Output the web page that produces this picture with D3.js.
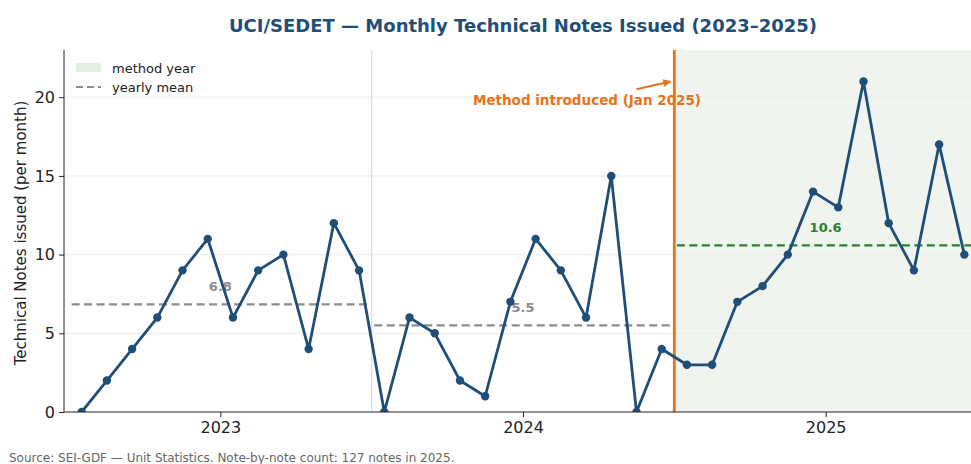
<!DOCTYPE html>
<html>
<head>
<meta charset="utf-8">
<title>UCI/SEDET monthly technical notes</title>
<script src="https://cdn.jsdelivr.net/npm/d3@7"></script>
<style>
	body { margin: 0; background: #fff; }
	svg { display: block; font-family: "DejaVu Sans", sans-serif; }
	.grid line { stroke: #ebebeb; }
	.axis path, .axis line { stroke: #222; }
	.axis text { fill: #222; }
</style>
</head>
<body>
<script>
	// data
	const years = [2023, 2024, 2025];
	const notes2023 = [0, 2, 4, 6, 9, 11, 6, 9, 10, 4, 12, 9];
	const notes2024 = [0, 6, 5, 2, 1, 7, 11, 9, 6, 15, 0, 4];
	const notes2025 = [3, 3, 7, 8, 10, 14, 13, 21, 12, 9, 17, 10];
	const yTicks = [0, 5, 10, 15, 20];
	const methodYear = 2025;

	const monthly = [notes2023, notes2024, notes2025];
	const series = [];
	monthly.forEach((arr, yi) => arr.forEach((v, m) => series.push({ i: yi * 12 + m, v: v })));
	const means = monthly.map((arr, yi) => ({ year: years[yi], yi: yi, mean: d3.mean(arr) }));

	const W = 971, H = 464;
	const margin = { top: 50, left: 64, bottom: 52 };
	const plotRight = 982;

	const svg = d3.select('body').append('svg')
		.attr('width', W)
		.attr('height', H);

	const x = d3.scaleLinear().domain([-0.7, 35.7]).range([margin.left, plotRight]);
	const y = d3.scaleLinear().domain([0, 23]).range([H - margin.bottom, margin.top]);

	svg.append('defs').append('clipPath').attr('id', 'plot')
		.append('rect')
			.attr('x', margin.left).attr('y', margin.top - 10)
			.attr('width', plotRight - margin.left).attr('height', y(0) - margin.top + 10);

	// method year shading
	const mi = years.indexOf(methodYear);
	svg.append('rect')
		.attr('x', x(mi * 12 - 0.5))
		.attr('y', y(23))
		.attr('width', x(35.7) - x(mi * 12 - 0.5))
		.attr('height', y(0) - y(23))
		.attr('fill', '#eff4ee');

	// horizontal grid
	svg.append('g').attr('class', 'grid')
		.selectAll('line').data(yTicks.slice(1)).enter()
		.append('line')
			.attr('x1', x(-0.7)).attr('x2', x(35.7))
			.attr('y1', d => y(d)).attr('y2', d => y(d));

	// year boundary
	svg.append('line')
		.attr('x1', x(11.5)).attr('x2', x(11.5))
		.attr('y1', y(0)).attr('y2', y(23))
		.attr('stroke', '#dcdcdc').attr('stroke-width', 1.2);

	// yearly means
	const gMean = svg.append('g').attr('clip-path', 'url(#plot)');
	gMean.selectAll('line').data(means).enter()
		.append('line')
			.attr('x1', d => x(d.yi * 12 - 0.4))
			.attr('x2', d => x(d.yi * 12 + 11.35))
			.attr('y1', d => y(d.mean)).attr('y2', d => y(d.mean))
			.attr('stroke', d => d.year === methodYear ? '#2e7d32' : '#8c8c8c')
			.attr('stroke-width', 2.2)
			.attr('stroke-dasharray', '8,4.5');

	gMean.selectAll('text').data(means).enter()
		.append('text')
			.attr('x', d => x(d.yi * 12 + 5.5))
			.attr('y', d => y(d.mean) - 13)
			.attr('text-anchor', 'middle')
			.attr('font-size', 13)
			.attr('font-weight', 'bold')
			.attr('fill', d => d.year === methodYear ? '#2e7d32' : '#8c8c8c')
			.text(d => d.mean.toFixed(1));

	// method line
	svg.append('line')
		.attr('x1', x(mi * 12 - 0.5)).attr('x2', x(mi * 12 - 0.5))
		.attr('y1', y(0)).attr('y2', y(23))
		.attr('stroke', '#ea7317').attr('stroke-width', 2.8);

	// series
	const line = d3.line().x(d => x(d.i)).y(d => y(d.v));
	const gLine = svg.append('g').attr('clip-path', 'url(#plot)');
	gLine.append('path')
		.datum(series)
		.attr('d', line)
		.attr('fill', 'none')
		.attr('stroke', '#1f4e79')
		.attr('stroke-width', 2.8)
		.attr('stroke-linejoin', 'round');
	gLine.selectAll('circle').data(series).enter()
		.append('circle')
			.attr('cx', d => x(d.i)).attr('cy', d => y(d.v))
			.attr('r', 4.2)
			.attr('fill', '#1f4e79');

	// axes
	svg.append('g').attr('class', 'axis')
		.attr('transform', `translate(${margin.left},0)`)
		.call(d3.axisLeft(y).tickValues(yTicks).tickSize(5).tickPadding(4))
		.attr('font-size', 16).attr('font-family', '"DejaVu Sans", sans-serif')
		.call(g => g.select('.domain').attr('d', `M-0,${y(0)}V${y(23)}`));

	svg.append('g').attr('class', 'axis')
		.attr('transform', `translate(0,${y(0)})`)
		.call(d3.axisBottom(x).tickValues(years.map((d, i) => i * 12 + 5.5))
			.tickFormat((d, i) => years[i]).tickSize(5).tickPadding(5))
		.attr('font-size', 16).attr('font-family', '"DejaVu Sans", sans-serif')
		.call(g => g.select('.domain').attr('d', `M${x(-0.7)},0H${plotRight}`));

	// y label
	svg.append('text')
		.attr('transform', `translate(26,${(y(0) + y(23)) / 2 + 2}) rotate(-90)`)
		.attr('text-anchor', 'middle')
		.attr('font-size', 15)
		.attr('fill', '#222')
		.text('Technical Notes issued (per month)');

	// annotation
	const ann = { i: mi * 12 - 0.5, v: 21 };
	svg.append('defs').append('marker')
		.attr('id', 'arrow').attr('viewBox', '0 0 10 10')
		.attr('refX', 9).attr('refY', 5)
		.attr('markerWidth', 4.5).attr('markerHeight', 4)
		.attr('orient', 'auto')
		.append('path').attr('d', 'M0,0L10,5L0,10z').attr('fill', '#ea7317');
	svg.append('line')
		.attr('x1', x(ann.i - 1.5)).attr('y1', y(ann.v - 0.5))
		.attr('x2', x(ann.i - 0.15)).attr('y2', y(ann.v))
		.attr('stroke', '#ea7317').attr('stroke-width', 2)
		.attr('marker-end', 'url(#arrow)');
	svg.append('text')
		.attr('x', 587).attr('y', 105)
		.attr('text-anchor', 'middle')
		.attr('font-size', 13.5)
		.attr('font-weight', 'bold')
		.attr('fill', '#ea7317')
		.text('Method introduced (Jan 2025)');

	// legend
	const lg = svg.append('g').attr('transform', 'translate(76,60)');
	lg.append('rect').attr('x', 0).attr('y', 3).attr('width', 25).attr('height', 9).attr('fill', '#e3eee3');
	lg.append('text').attr('x', 36).attr('y', 13).attr('font-size', 13).attr('fill', '#222').text('method year');
	lg.append('line').attr('x1', 0).attr('x2', 25).attr('y1', 27).attr('y2', 27)
		.attr('stroke', '#8c8c8c').attr('stroke-width', 2).attr('stroke-dasharray', '7,4');
	lg.append('text').attr('x', 36).attr('y', 32).attr('font-size', 13).attr('fill', '#222').text('yearly mean');

	// title
	svg.append('text')
		.attr('x', 523).attr('y', 32)
		.attr('text-anchor', 'middle')
		.attr('font-size', 18)
		.attr('font-weight', 'bold')
		.attr('fill', '#1f4e79')
		.text('UCI/SEDET — Monthly Technical Notes Issued (2023–2025)');

	// source
	svg.append('text')
		.attr('x', 9).attr('y', 462)
		.attr('font-size', 12)
		.attr('fill', '#666')
		.text('Source: SEI-GDF — Unit Statistics. Note-by-note count: 127 notes in 2025.');
</script>
</body>
</html>
